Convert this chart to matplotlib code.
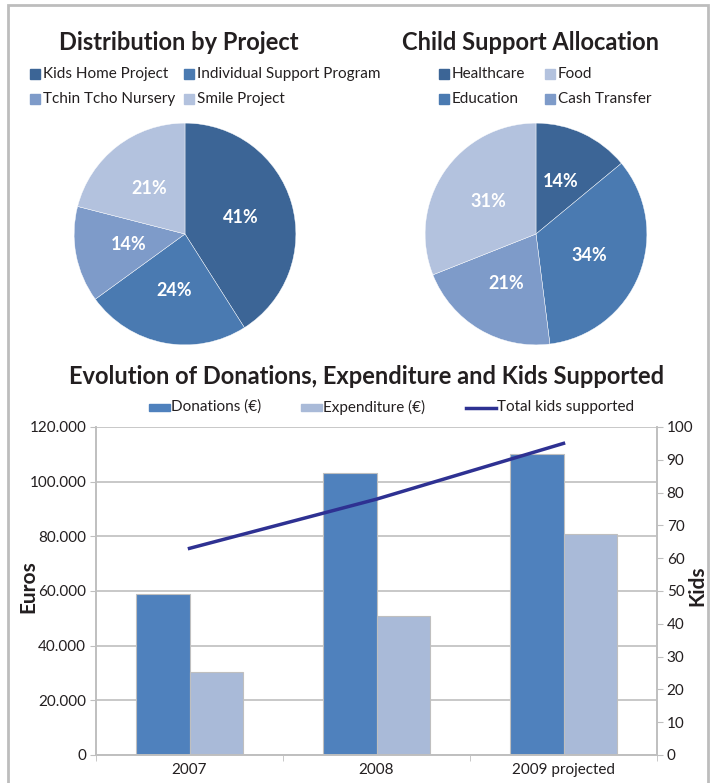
import numpy as np
import matplotlib
matplotlib.use('Agg')
import matplotlib.pyplot as plt
from matplotlib.patches import Rectangle
from matplotlib.lines import Line2D
from matplotlib.ticker import FuncFormatter, FixedLocator

plt.rcParams['font.family'] = ['Lato', 'DejaVu Sans']

# pie data
project_names = ['Kids Home Project', 'Individual Support Program', 'Tchin Tcho Nursery', 'Smile Project']
project_share = [41, 24, 14, 21]
support_names = ['Healthcare', 'Education', 'Cash Transfer', 'Food']
support_share = [14, 34, 21, 31]
pie_colors = ['#3C6596', '#4A7AB1', '#7E9BC9', '#B3C2DE']

# bar / line data
years = ['2007', '2008', '2009 projected']
donations = [59000, 103000, 110000]
expenditure = [30500, 51000, 81000]
kids = [63, 78, 95]

W, H = 716, 783
fig = plt.figure(figsize=(W / 100, H / 100), dpi=100)

def box(l, t, w, h):
    return [l / W, 1 - (t + h) / H, w / W, h / H]

def px(x, y):
    return x / W, 1 - y / H

# outer frame
fig.patches.append(Rectangle(px(8, 790), 700 / W, 785 / H, transform=fig.transFigure,
                             fill=False, ec='#BDBDBD', lw=2))

dark = '#231F20'

# ---- pies
def draw_pie(rect, vals, title, tx, names, order, leg_x, leg_col2):
    ax = fig.add_axes(rect)
    ax.pie(vals, colors=pie_colors, startangle=90, counterclock=False,
           autopct='%.0f%%', pctdistance=0.52, radius=1,
           wedgeprops=dict(edgecolor='white', linewidth=0.3),
           textprops=dict(color='white', fontsize=13, fontweight='bold'))
    ax.set_xlim(-1.01, 1.01)
    ax.set_ylim(-1.01, 1.01)
    ax.set_aspect('equal')
    fig.text(*px(tx, 42), title, ha='center', va='center', fontsize=17,
             fontweight='bold', color=dark)
    spots = [(leg_x, 74), (leg_x, 99), (leg_col2, 74), (leg_col2, 99)]
    for k, (sx, sy) in zip(order, spots):
        fig.patches.append(Rectangle(px(sx, sy + 5), 10 / W, 10 / H, transform=fig.transFigure,
                                     color=pie_colors[k]))
        fig.text(*px(sx + 13, sy), names[k], ha='left', va='center', fontsize=11, color=dark)

draw_pie(box(73, 122, 224, 224), project_share, 'Distribution by Project', 179,
         project_names, [0, 2, 1, 3], 30, 184)
draw_pie(box(424, 122, 224, 224), support_share, 'Child Support Allocation', 531,
         support_names, [0, 1, 3, 2], 439, 545)

# ---- bars + line
ax = fig.add_axes(box(96, 427, 561, 328))
x = np.arange(len(years))
bw = 0.284
grey = '#BFBFBF'
ax.bar(x - bw / 2, donations, bw, color='#4F81BD', edgecolor=grey, linewidth=0.8, zorder=2)
ax.bar(x + bw / 2, expenditure, bw, color='#A9BAD8', edgecolor=grey, linewidth=0.8, zorder=2)
ax.set_xlim(-0.5, 2.5)
ax.set_ylim(0, 120000)
ax.set_yticks(np.arange(0, 120001, 20000))
ax.yaxis.set_major_formatter(FuncFormatter(lambda v, p: f'{int(v):,}'.replace(',', '.')))
ax.grid(axis='y', color=grey, lw=1.2, zorder=0)
ax.set_xticks(x)
ax.set_xticklabels(years)
ax.xaxis.set_minor_locator(FixedLocator([-0.5, 0.5, 1.5, 2.5]))
ax.tick_params(axis='x', which='major', length=0, pad=6, labelsize=11, labelcolor=dark)
ax.tick_params(axis='x', which='minor', length=4, color=grey)
ax.tick_params(axis='y', length=4, color=grey, labelsize=11, labelcolor=dark, pad=3)
ax.spines['top'].set_visible(False)
for s in ['left', 'right', 'bottom']:
    ax.spines[s].set_color(grey)
    ax.spines[s].set_linewidth(1.2)

ax2 = ax.twinx()
ax2.plot(x, kids, color='#2E3192', lw=2.5, zorder=3)
ax2.set_ylim(0, 100)
ax2.set_yticks(np.arange(0, 101, 10))
ax2.tick_params(axis='y', length=4, color=grey, labelsize=11, labelcolor=dark, pad=3)
ax2.spines['top'].set_visible(False)
for s in ['left', 'right', 'bottom']:
    ax2.spines[s].set_color(grey)
    ax2.spines[s].set_linewidth(1.2)

fig.text(*px(28, 587), 'Euros', rotation=90, ha='center', va='center', fontsize=15,
         fontweight='bold', color=dark)
fig.text(*px(697, 586), 'Kids', rotation=90, ha='center', va='center', fontsize=15,
         fontweight='bold', color=dark)

fig.text(*px(367, 377), 'Evolution of Donations, Expenditure and Kids Supported',
         ha='center', va='center', fontsize=17, fontweight='bold', color=dark)

# bottom legend
fig.patches.append(Rectangle(px(149, 411), 21 / W, 7 / H, transform=fig.transFigure, color='#4F81BD'))
fig.text(*px(171, 407), 'Donations (€)', ha='left', va='center', fontsize=11, color=dark)
fig.patches.append(Rectangle(px(301, 411), 21 / W, 7 / H, transform=fig.transFigure, color='#A9BAD8'))
fig.text(*px(323, 407), 'Expenditure (€)', ha='left', va='center', fontsize=11, color=dark)
fig.lines.append(Line2D([466 / W, 496 / W], [1 - 407.5 / H] * 2, transform=fig.transFigure,
                        color='#2E3192', lw=2.5))
fig.text(*px(497, 407), 'Total kids supported', ha='left', va='center', fontsize=11, color=dark)

fig.savefig('out.png', dpi=100)
